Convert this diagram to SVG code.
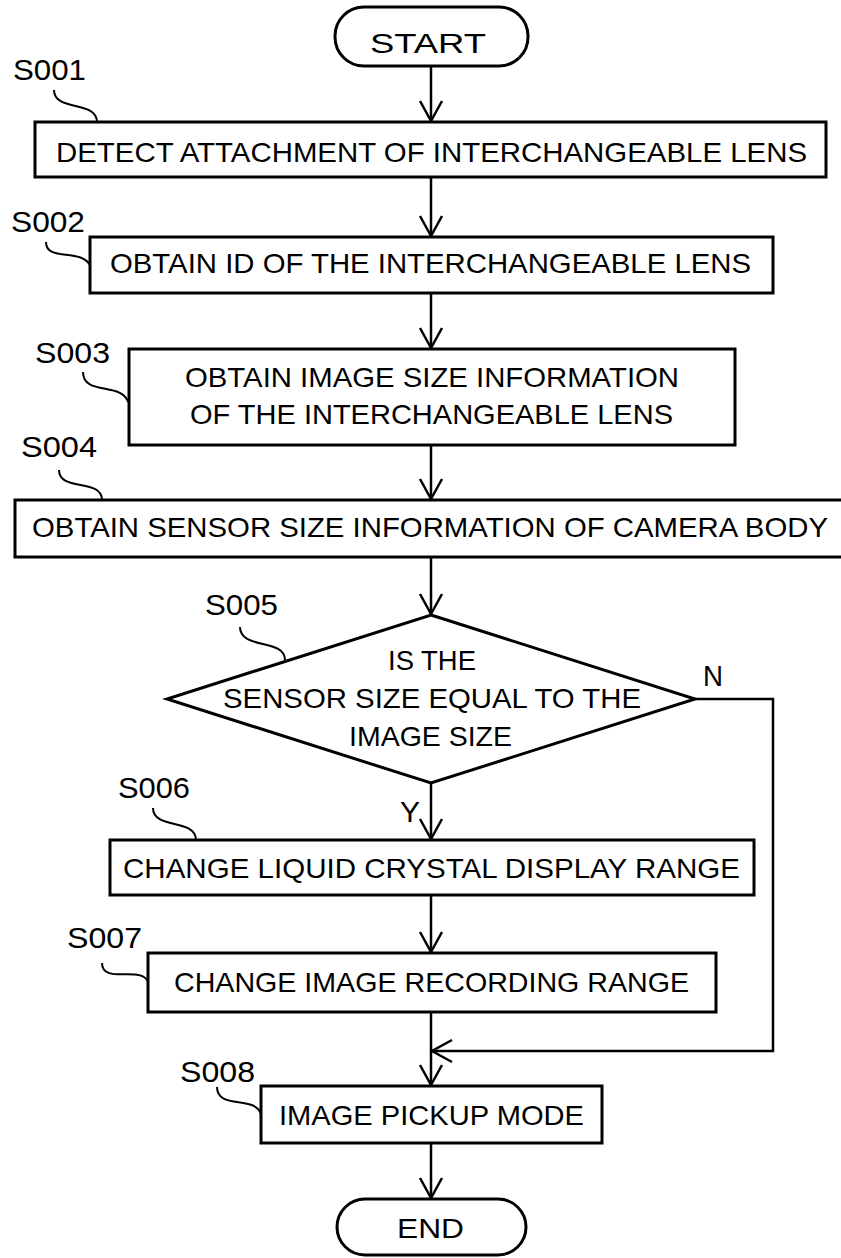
<svg xmlns="http://www.w3.org/2000/svg" width="841" height="1258" viewBox="0 0 841 1258">
<defs>
<style>
.b{fill:#fff;stroke:#000;stroke-width:3}
.t{font-family:"Liberation Sans",Arial,sans-serif;font-size:28px;fill:#000}
.l{font-family:"Liberation Sans",Arial,sans-serif;font-size:30px;fill:#000}
.c{fill:none;stroke:#000;stroke-width:2.5}
.s{fill:none;stroke:#000;stroke-width:2}
</style>
<marker id="ah" markerUnits="userSpaceOnUse" markerWidth="26" markerHeight="26" viewBox="-22 -13 26 26" refX="0" refY="0" orient="auto">
<path d="M-20,-11 L0,0 L-20,11" fill="none" stroke="#000" stroke-width="2.5"/>
</marker>
</defs>
<rect width="841" height="1258" fill="#fff"/>
<g id="connectors">
<path class="c" d="M431,66 V121" marker-end="url(#ah)"/>
<path class="c" d="M431,177 V236" marker-end="url(#ah)"/>
<path class="c" d="M431,293 V348" marker-end="url(#ah)"/>
<path class="c" d="M431,445 V499" marker-end="url(#ah)"/>
<path class="c" d="M431,557 V614" marker-end="url(#ah)"/>
<path class="c" d="M431,783 V839" marker-end="url(#ah)"/>
<path class="c" d="M431,895 V952" marker-end="url(#ah)"/>
<path class="c" d="M431,1012 V1085" marker-end="url(#ah)"/>
<path class="c" d="M431,1143 V1198" marker-end="url(#ah)"/>
<path class="c" d="M695,699 H773 V1051 H432" marker-end="url(#ah)"/>
<text class="l" x="703" y="686" textLength="20" lengthAdjust="spacingAndGlyphs">N</text>
<text class="l" x="400" y="822" textLength="20" lengthAdjust="spacingAndGlyphs">Y</text>
</g>
<g id="start">
<rect class="b" x="335" y="7" width="193" height="59" rx="29"/>
<text class="t" x="370" y="53" textLength="116" lengthAdjust="spacingAndGlyphs">START</text>
</g>
<g id="s001">
<path class="s" d="M54,90 C54,112 97,100 97,122"/>
<text class="l" x="13" y="80" textLength="73" lengthAdjust="spacingAndGlyphs">S001</text>
<rect class="b" x="35" y="122" width="791" height="55"/>
<text class="t" x="56" y="162" textLength="751" lengthAdjust="spacingAndGlyphs">DETECT ATTACHMENT OF INTERCHANGEABLE LENS</text>
</g>
<g id="s002">
<path class="s" d="M46,242 C46,262 80,248 90,265"/>
<text class="l" x="11" y="232" textLength="74" lengthAdjust="spacingAndGlyphs">S002</text>
<rect class="b" x="90" y="237" width="683" height="56"/>
<text class="t" x="110" y="273" textLength="641" lengthAdjust="spacingAndGlyphs">OBTAIN ID OF THE INTERCHANGEABLE LENS</text>
</g>
<g id="s003">
<path class="s" d="M83,372 C83,396 122,382 128,402"/>
<text class="l" x="35" y="363" textLength="75" lengthAdjust="spacingAndGlyphs">S003</text>
<rect class="b" x="129" y="349" width="606" height="96"/>
<text class="t" x="185" y="387" textLength="494" lengthAdjust="spacingAndGlyphs">OBTAIN IMAGE SIZE INFORMATION</text>
<text class="t" x="190" y="424" textLength="483" lengthAdjust="spacingAndGlyphs">OF THE INTERCHANGEABLE LENS</text>
</g>
<g id="s004">
<path class="s" d="M59,470 C59,492 102,478 102,500"/>
<text class="l" x="21" y="457" textLength="76" lengthAdjust="spacingAndGlyphs">S004</text>
<rect class="b" x="15" y="500" width="840" height="57"/>
<text class="t" x="32" y="537" textLength="796" lengthAdjust="spacingAndGlyphs">OBTAIN SENSOR SIZE INFORMATION OF CAMERA BODY</text>
</g>
<g id="s005">
<path class="s" d="M240,627 C240,650 285,638 285,660"/>
<text class="l" x="205" y="615" textLength="73" lengthAdjust="spacingAndGlyphs">S005</text>
<polygon class="b" points="431,615 695,699 431,783 167,699"/>
<text class="t" x="388" y="670" textLength="88" lengthAdjust="spacingAndGlyphs">IS THE</text>
<text class="t" x="223" y="708" textLength="418" lengthAdjust="spacingAndGlyphs">SENSOR SIZE EQUAL TO THE</text>
<text class="t" x="349" y="746" textLength="163" lengthAdjust="spacingAndGlyphs">IMAGE SIZE</text>
</g>
<g id="s006">
<path class="s" d="M153,808 C153,830 196,818 196,840"/>
<text class="l" x="118" y="798" textLength="72" lengthAdjust="spacingAndGlyphs">S006</text>
<rect class="b" x="110" y="840" width="644" height="55"/>
<text class="t" x="123" y="878" textLength="617" lengthAdjust="spacingAndGlyphs">CHANGE LIQUID CRYSTAL DISPLAY RANGE</text>
</g>
<g id="s007">
<path class="s" d="M102,963 C102,985 142,965 148,982"/>
<text class="l" x="67" y="948" textLength="75" lengthAdjust="spacingAndGlyphs">S007</text>
<rect class="b" x="148" y="953" width="568" height="59"/>
<text class="t" x="174" y="992" textLength="515" lengthAdjust="spacingAndGlyphs">CHANGE IMAGE RECORDING RANGE</text>
</g>
<g id="s008">
<path class="s" d="M217,1087 C217,1110 255,1095 261,1114"/>
<text class="l" x="180" y="1082" textLength="75" lengthAdjust="spacingAndGlyphs">S008</text>
<rect class="b" x="261" y="1086" width="341" height="57"/>
<text class="t" x="279" y="1125" textLength="305" lengthAdjust="spacingAndGlyphs">IMAGE PICKUP MODE</text>
</g>
<g id="end">
<rect class="b" x="337" y="1199" width="189" height="56" rx="28"/>
<text class="t" x="397" y="1238" textLength="67" lengthAdjust="spacingAndGlyphs">END</text>
</g>
</svg>
